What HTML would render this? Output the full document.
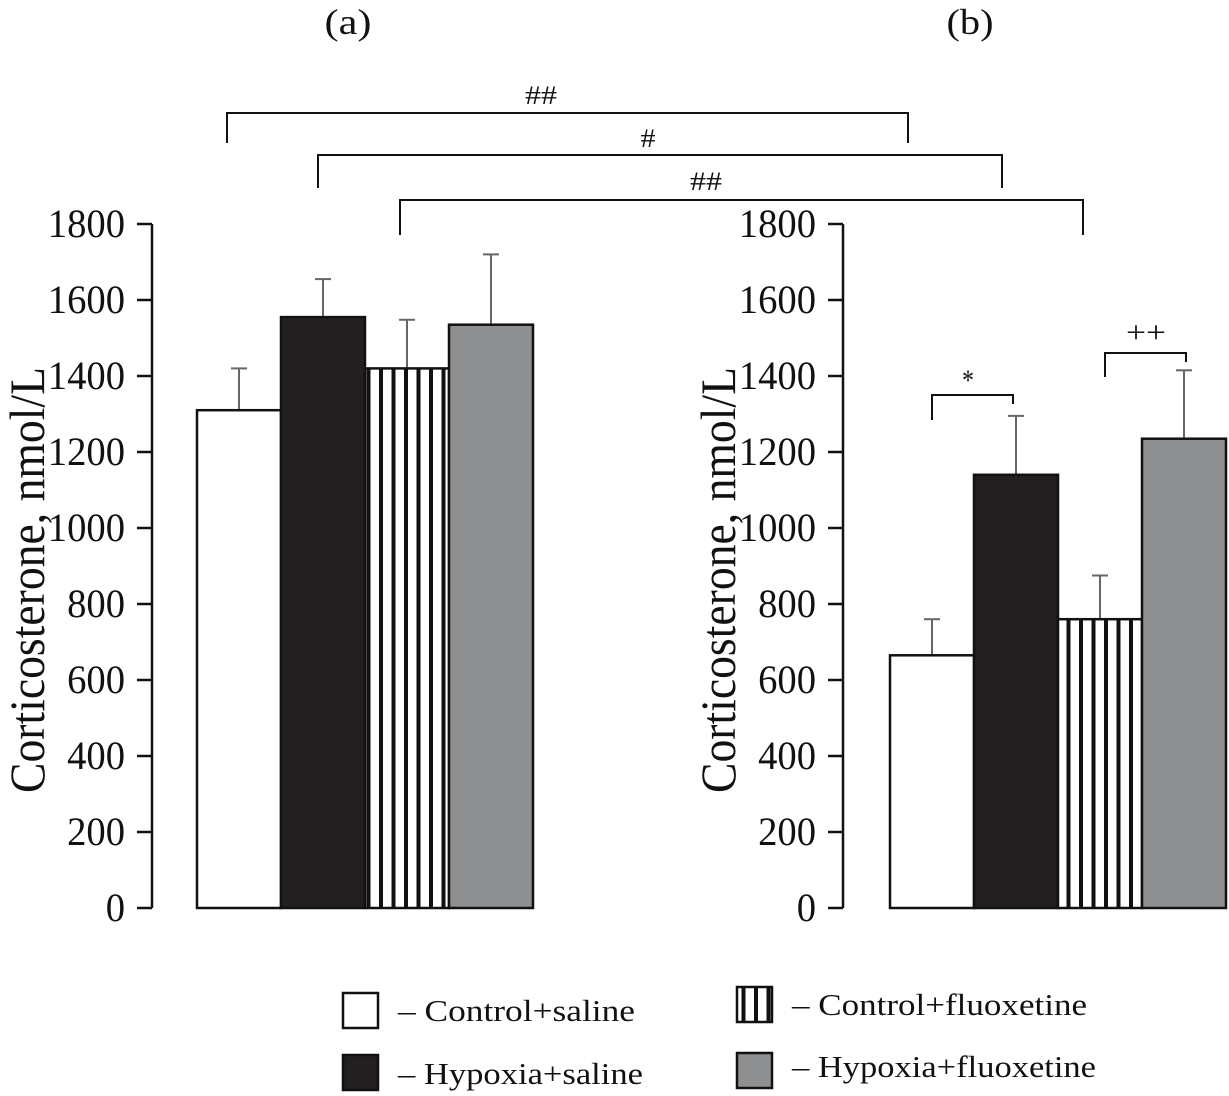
<!DOCTYPE html>
<html><head><meta charset="utf-8"><style>
body{margin:0;background:#fff}
svg{display:block;font-family:"Liberation Serif",serif}
</style></head><body>
<svg id="c" width="1229" height="1096" viewBox="0 0 1229 1096">
<defs><pattern id="stripes" patternUnits="userSpaceOnUse" width="12.5" height="10"><rect width="12.5" height="10" fill="#fff"/><rect x="4" width="4" height="10" fill="#111"/></pattern></defs>
<g id="plot"></g>
</svg>
<script>
const groups = ["Control+saline","Hypoxia+saline","Control+fluoxetine","Hypoxia+fluoxetine"];
const valuesA = [1310, 1555, 1420, 1535];
const errorsA = [1420, 1655, 1548, 1720];
const valuesB = [665, 1140, 760, 1235];
const errorsB = [760, 1295, 875, 1415];
const ticks = [0,200,400,600,800,1000,1200,1400,1600,1800];
const NS="http://www.w3.org/2000/svg";
const g=document.getElementById('plot');
function mk(t,a,txt){const e=document.createElementNS(NS,t);for(const k in a)e.setAttribute(k,a[k]);if(txt!==undefined)e.textContent=txt;g.appendChild(e);return e;}
const y0=908,y1=224,vmax=1800;
function y(v){return y0-(v/vmax)*(y0-y1);}
const fills=["#fff","#231f20","url(#stripes)","#8e8f91"];
function panel(ax,barX,barW,vals,errs,pname,label,lx){
  let e=mk('line',{x1:ax,y1:y1,x2:ax,y2:y0,stroke:'#111','stroke-width':2.5});
  
  
  ticks.forEach(t=>{
    let l=mk('line',{x1:ax-15,y1:y(t),x2:ax,y2:y(t),stroke:'#111','stroke-width':2.5});
    
    
    const s=String(t);
    let tx=mk('text',{x:ax-27,y:y(t)+13,'font-size':40,'text-anchor':'end',fill:'#111',textLength:s.length*19.3,lengthAdjust:'spacingAndGlyphs'},s);
    
    
  });
  let yt=mk('text',{x:0,y:0,'font-size':50,'text-anchor':'middle',fill:'#111',textLength:426,lengthAdjust:'spacingAndGlyphs',transform:`translate(${ax-108},580) rotate(-90)`},'Corticosterone, nmol/L');
  
  
  vals.forEach((v,i)=>{
    const x=barX+i*barW, cx=x+barW/2;
    let el=mk('line',{x1:cx,y1:y(errs[i]),x2:cx,y2:y(v),stroke:'#666','stroke-width':2});
    
    
    let cap=mk('line',{x1:cx-8,y1:y(errs[i]),x2:cx+8,y2:y(errs[i]),stroke:'#666','stroke-width':2});
    
    
    let r=mk('rect',{x:x,y:y(v),width:barW,height:y0-y(v),fill:fills[i],stroke:'#111','stroke-width':2.5});
    
    
  });
  let pl=mk('text',{x:lx,y:34,'font-size':36,'text-anchor':'middle',fill:'#111',textLength:47,lengthAdjust:'spacingAndGlyphs'},label);
  
  
}
panel(152,197,84,valuesA,errorsA,'panel-a','(a)',348);
panel(843,890,84,valuesB,errorsB,'panel-b','(b)',970);
function bracket(x1,x2,yt,d1,d2,lbl,lx,ly,fs,tl,name){
  let p=mk('path',{d:`M${x1},${d1}V${yt}H${x2}V${d2}`,fill:'none',stroke:'#111','stroke-width':2});
  
  
  let t=mk('text',{x:lx,y:ly,'font-size':fs,'text-anchor':'middle',fill:'#111',textLength:tl,lengthAdjust:'spacingAndGlyphs'},lbl);
  
  
}
bracket(227,908,113,143,143,'##',541,104,26,32,'significance-bracket-1');
bracket(318,1002,155,188,188,'#',648,147,26,15,'significance-bracket-2');
bracket(400,1083,200,235,235,'##',706,190,26,32,'significance-bracket-3');
bracket(932,1013,395,420,404,'*',968,390,30,12,'significance-bracket-star');
bracket(1105,1186,353,377,362,'++',1146,342,30,40,'significance-bracket-plus');
const leg=[[343,993,0,'– Control+saline',398,1021,237],[343,1055,1,'– Hypoxia+saline',398,1084,245],[737,987,2,'– Control+fluoxetine',792,1015,295],[737,1053,3,'– Hypoxia+fluoxetine',792,1077,304]];
leg.forEach((L,i)=>{
  let r=mk('rect',{x:L[0],y:L[1],width:35,height:35,fill:fills[L[2]],stroke:'#111','stroke-width':2.5});
  
  
  let t=mk('text',{x:L[4],y:L[5],'font-size':31,fill:'#111',textLength:L[6],lengthAdjust:'spacingAndGlyphs'},L[3]);
  
  
});
</script>
</body></html>
